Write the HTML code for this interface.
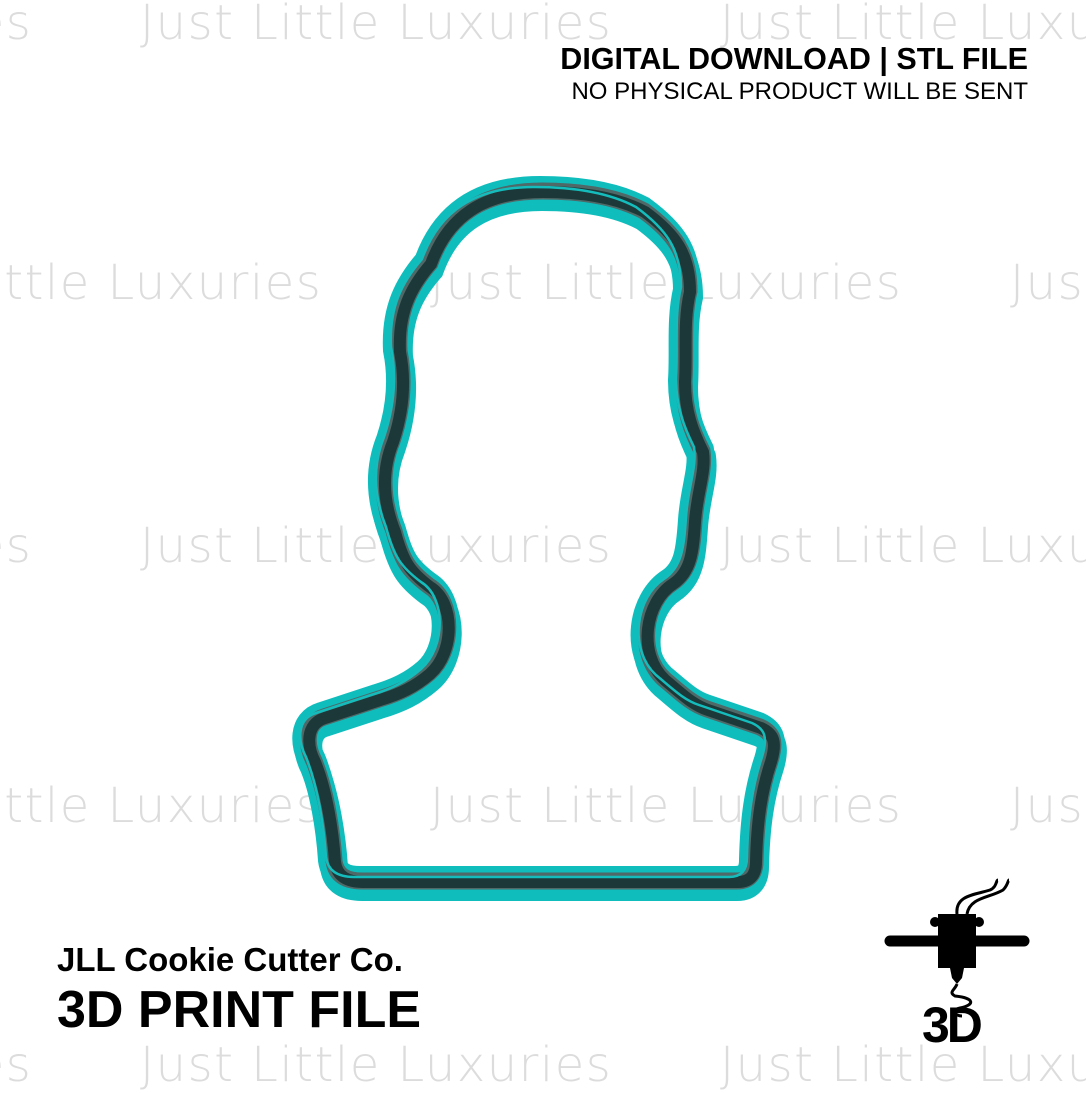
<!DOCTYPE html>
<html><head><style>
html,body{margin:0;padding:0;background:#fff}
body{width:1086px;height:1086px;position:relative;overflow:hidden;font-family:"Liberation Sans",sans-serif}
.wm{position:absolute;white-space:nowrap;font-size:48px;color:#dcdcdc;letter-spacing:1.5px;font-family:"DejaVu Sans","Liberation Sans",sans-serif;font-weight:300}
.t{position:absolute;white-space:nowrap;color:#000}
</style></head><body>
<div class="wm" style="top:-5px;left:-440px">Just Little Luxuries</div>
<div class="wm" style="top:-5px;left:140px">Just Little Luxuries</div>
<div class="wm" style="top:-5px;left:720px">Just Little Luxuries</div>
<div class="wm" style="top:255px;left:-150px">Just Little Luxuries</div>
<div class="wm" style="top:255px;left:430px">Just Little Luxuries</div>
<div class="wm" style="top:255px;left:1010px">Just Little Luxuries</div>
<div class="wm" style="top:518px;left:-440px">Just Little Luxuries</div>
<div class="wm" style="top:518px;left:140px">Just Little Luxuries</div>
<div class="wm" style="top:518px;left:720px">Just Little Luxuries</div>
<div class="wm" style="top:778px;left:-150px">Just Little Luxuries</div>
<div class="wm" style="top:778px;left:430px">Just Little Luxuries</div>
<div class="wm" style="top:778px;left:1010px">Just Little Luxuries</div>
<div class="wm" style="top:1037px;left:-440px">Just Little Luxuries</div>
<div class="wm" style="top:1037px;left:140px">Just Little Luxuries</div>
<div class="wm" style="top:1037px;left:720px">Just Little Luxuries</div>

<svg width="1086" height="1086" style="position:absolute;left:0;top:0">
<defs>
<path id="o" d="M540,190 C480,190 445,215 428,262 C408,285 395,310 397,350 C403,380 400,410 390,440 C378,470 380,500 392,530 C400,560 407,570 427,585 C452,600 452,650 427,672 C412,685 397,692 377,698 L322,716 C302,722 304,745 312,760 C324,790 330,830 332,860 C334,875 345,880 360,880 L735,880 C748,880 753,872 753,860 C754,820 758,790 768,760 C774,740 771,732 758,726 L705,708 C690,703 680,693 662,678 C634,652 642,600 670,582 C688,570 690,550 692,520 C694,490 703,470 700,450 C690,430 682,410 682,380 C684,350 680,320 687,290 C687,252 672,232 642,210 C612,194 575,190 540,190 Z"/>
</defs>
<use href="#o" fill="none" stroke="#0fbdbd" stroke-width="28" transform="translate(2,7)"/>
<use href="#o" fill="none" stroke="#0fbdbd" stroke-width="28"/>
<use href="#o" fill="none" stroke="#4f6868" stroke-width="17" transform="translate(2,1)"/>
<use href="#o" fill="none" stroke="#1d3838" stroke-width="12" transform="translate(3,2)"/>
<use href="#o" fill="none" stroke="#15bcbc" stroke-width="2.5" transform="translate(-6,-3)"/>
<line x1="890" y1="941" x2="1024" y2="941" stroke="#000" stroke-width="11" stroke-linecap="round"/>
<rect x="938" y="914" width="38" height="54" fill="#000"/>
<circle cx="935" cy="922" r="5" fill="#000"/><circle cx="979" cy="922" r="5" fill="#000"/>
<path d="M950,968 L964,968 L962,978 L957,984 L952,978 Z" fill="#000"/>
<path d="M957,914 C955,895 975,895 990,890 C997,887 996,880 998,880 M967,914 C970,897 990,898 1003,890 C1008,885 1008,880 1009,880" fill="none" stroke="#000" stroke-width="3"/>
<path d="M957,984 C955,990 948,992 955,996 C975,998 975,1005 960,1008 C950,1010 955,1016 962,1016" fill="none" stroke="#000" stroke-width="3"/>
</svg>

<div class="t" style="right:58px;top:42px;font-size:30.5px;font-weight:bold">DIGITAL DOWNLOAD | STL FILE</div>
<div class="t" style="right:58px;top:78px;font-size:24px">NO PHYSICAL PRODUCT WILL BE SENT</div>
<div class="t" style="left:57px;top:941px;font-size:33px;font-weight:bold">JLL Cookie Cutter Co.</div>
<div class="t" style="left:57px;top:980px;font-size:52px;font-weight:bold">3D PRINT FILE</div>
<div class="t" style="left:922px;top:996px;font-size:50px;font-weight:bold;letter-spacing:-3px">3D</div>
</body></html>
